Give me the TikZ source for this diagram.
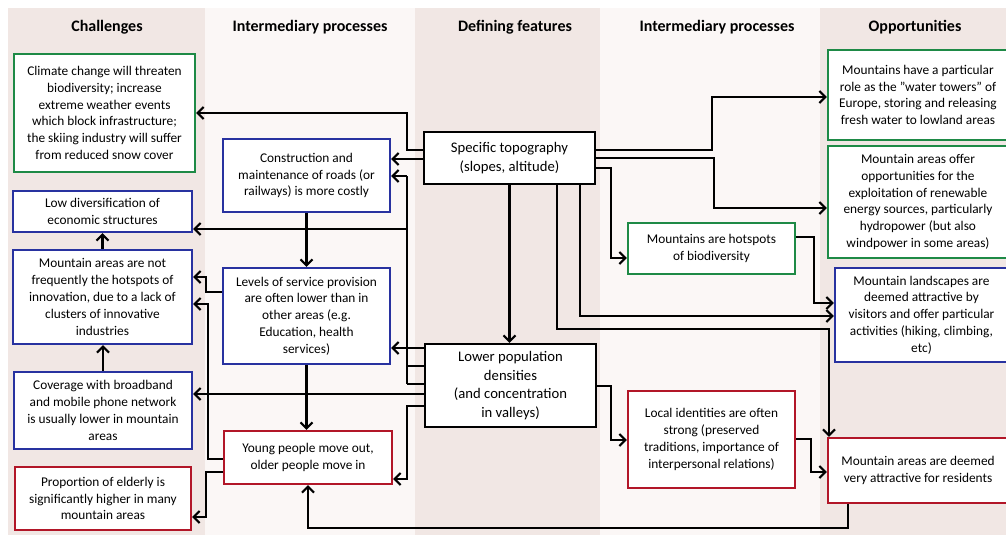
\documentclass[tikz,border=0pt]{standalone}
\usepackage{fontspec}
\setmainfont{Carlito}
\usetikzlibrary{arrows.meta}

\definecolor{bandA}{RGB}{241,231,228}
\definecolor{bandB}{RGB}{251,247,246}
\definecolor{boxgreen}{RGB}{30,138,70}
\definecolor{boxblue}{RGB}{40,50,160}
\definecolor{boxred}{RGB}{178,22,40}

\tikzset{
  box/.style={draw, fill=white, line width=1.7pt, align=center, inner sep=0pt,
    font=\fontsize{10}{12.6}\selectfont},
  gbox/.style={box, draw=boxgreen},
  bbox/.style={box, draw=boxblue},
  rbox/.style={box, draw=boxred},
  kbox/.style={box, draw=black, font=\fontsize{11}{14}\selectfont},
  head/.style={font=\fontsize{12}{14}\selectfont\bfseries},
  link/.style={line width=1.6pt},
  arr/.style={line width=1.6pt, -{Straight Barb[length=4.5pt,width=9pt]}}
}

\begin{document}
\begin{tikzpicture}[x=0.75pt,y=-0.75pt]
    \useasboundingbox (0,0) rectangle (1006,543);

    % Columns
    \fill[bandA] (8,8) rectangle (205,535);
    \fill[bandB] (205,8) rectangle (415,535);
    \fill[bandA] (415,8) rectangle (600,535);
    \fill[bandB] (600,8) rectangle (820,535);
    \fill[bandA] (820,8) rectangle (1006,535);

    \node[head] (h1) at (107,27) {Challenges};
    \node[head] (h2) at (310,27) {Intermediary processes};
    \node[head] (h3) at (515,27) {Defining features};
    \node[head] (h4) at (717,27) {Intermediary processes};
    \node[head] (h5) at (915,27) {Opportunities};

    % Challenges
    \node[gbox,minimum width=135.75pt,minimum height=88.5pt] (clim) at (104.5,113)
      {Climate change will threaten\\ biodiversity; increase\\ extreme weather events\\ which block infrastructure;\\ the skiing industry will suffer\\ from reduced snow cover};
    \node[bbox,minimum width=134.25pt,minimum height=30.75pt] (lowdiv) at (102.5,211.5)
      {Low diversification of\\ economic structures};
    \node[bbox,minimum width=134.25pt,minimum height=70.5pt] (innov) at (102.5,297)
      {Mountain areas are not\\ frequently the hotspots of\\ innovation, due to a lack of\\ clusters of innovative\\ industries};
    \node[bbox,minimum width=133.5pt,minimum height=57.75pt] (cover) at (103,410.5)
      {Coverage with broadband\\ and mobile phone network\\ is usually lower in mountain\\ areas};
    \node[rbox,minimum width=132pt,minimum height=47.25pt] (elderly) at (103,498.5)
      {Proportion of elderly is\\ significantly higher in many\\ mountain areas};

    % Intermediary processes (left)
    \node[bbox,minimum width=125.25pt,minimum height=54.75pt] (constr) at (306.5,175.5)
      {Construction and\\ maintenance of roads (or\\ railways) is more costly};
    \node[bbox,minimum width=125.25pt,minimum height=72pt] (levels) at (306.5,316)
      {Levels of service provision\\ are often lower than in\\ other areas (e.g.\\ Education, health\\ services)};
    \node[rbox,minimum width=126pt,minimum height=39.75pt] (young) at (308,457.5)
      {Young people move out,\\ older people move in};

    % Defining features
    \node[kbox,minimum width=128.25pt,minimum height=39pt] (topo) at (509.5,158)
      {Specific topography\\ (slopes, altitude)};
    \node[kbox,minimum width=128.25pt,minimum height=62.25pt] (lowpop) at (510.5,385.5)
      {Lower population\\ densities\\ (and concentration\\ in valleys)};

    % Intermediary processes (right)
    \node[gbox,minimum width=125.25pt,minimum height=38.25pt] (biodiv) at (711.5,248.5)
      {Mountains are hotspots\\ of biodiversity};
    \node[rbox,minimum width=125.25pt,minimum height=72.75pt] (local) at (711.5,439.5)
      {Local identities are often\\ strong (preserved\\ traditions, importance of\\ interpersonal relations)};

    % Opportunities
    \node[gbox,minimum width=135pt,minimum height=67.5pt] (water) at (918,95)
      {Mountains have a particular\\ role as the "water towers" of\\ Europe, storing and releasing\\ fresh water to lowland areas};
    \node[gbox,minimum width=135pt,minimum height=84pt] (renew) at (918,202)
      {Mountain areas offer\\ opportunities for the\\ exploitation of renewable\\ energy sources, particularly\\ hydropower (but also\\ windpower in some areas)};
    \node[bbox,minimum width=129.75pt,minimum height=70.5pt] (landsc) at (921.5,315)
      {Mountain landscapes are\\ deemed attractive by\\ visitors and offer particular\\ activities (hiking, climbing,\\ etc)};
    \node[rbox,minimum width=135pt,minimum height=48.75pt] (resid) at (918,470.5)
      {Mountain areas are deemed\\ very attractive for residents};

    % Left side of the features
    \draw[arr] (topo.west |- 0,150) -| (407,113) -- (clim.east |- 0,113);
    \draw[arr] (topo.west |- 0,159) -- (constr.east |- 0,159);
    \draw[arr] (lowpop.west |- 0,348) -- (levels.east |- 0,348);
    \draw[link] (lowpop.west |- 0,366) -- (407,366) (lowpop.west |- 0,384) -- (407,384);
    \draw[link] (407,384) -- (407,176);
    \draw[arr] (407,176) -- (constr.east |- 0,176);
    \draw[arr] (407,229) -- (lowdiv.east |- 0,229);
    \draw[arr] (lowpop.west |- 0,394) -- (cover.east |- 0,394);
    \draw[arr] (lowpop.west |- 0,406) -| (407,479) -- (young.east |- 0,479);

    \draw[arr] (constr.south) -- (constr.south |- levels.north);
    \draw[arr] (levels.south) -- (levels.south |- young.north);
    \draw[arr] (levels.west |- 0,292) -| (206,277) -- (innov.east |- 0,277);
    \draw[arr] (young.west |- 0,459) -| (208,304) -- (innov.east |- 0,304);
    \draw[arr] (young.west |- 0,472) -| (206,517) -- (elderly.east |- 0,517);
    \draw[arr] (cover.north) -- (cover.north |- innov.south);
    \draw[arr] (innov.north) -- (innov.north |- lowdiv.south);

    % Right side of the features
    \draw[arr] (topo.south) -- (topo.south |- lowpop.north);
    \draw[arr] (topo.east |- 0,150) -| (712,97) -- (water.west |- 0,97);
    \draw[arr] (topo.east |- 0,158) -| (714,208) -- (renew.west |- 0,208);
    \draw[arr] (topo.east |- 0,168) -| (611,258) -- (biodiv.west |- 0,258);
    \draw[arr] (biodiv.east |- 0,237) -| (814,303) -- (landsc.west |- 0,303);
    \draw[arr] (topo.south -| 580,0) |- (landsc.west |- 0,316);
    \draw[arr] (topo.south -| 557,0) |- (829,329) -- (829,0 |- resid.north);
    \draw[arr] (lowpop.east |- 0,386) -| (611,440) -- (local.west |- 0,440);
    \draw[arr] (local.east |- 0,439) -| (811,472) -- (resid.west |- 0,472);

    % Back to the left
    \draw[arr] (resid.south -| 848,0) -- (848,528) -| (young.south);
\end{tikzpicture}
\end{document}
